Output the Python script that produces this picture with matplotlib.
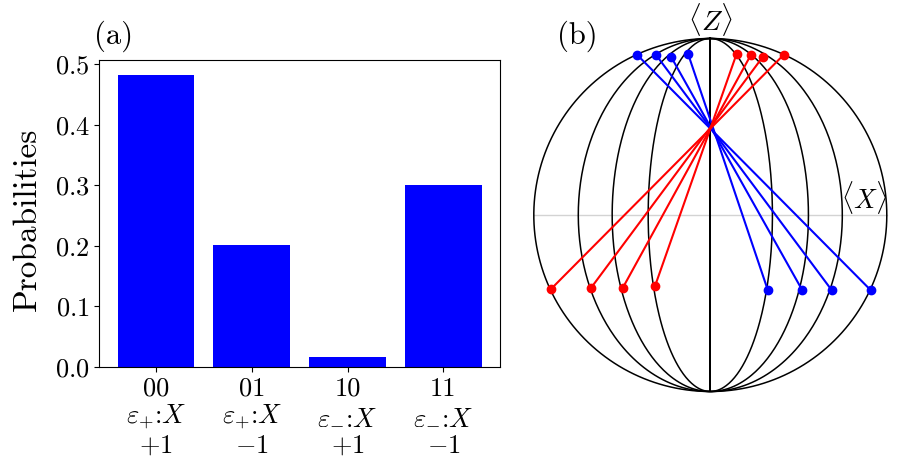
import matplotlib
matplotlib.use("Agg")
import matplotlib.pyplot as plt
import matplotlib.transforms as mtransforms
import numpy as np

plt.rcParams["font.family"] = "serif"
plt.rcParams["font.serif"] = ["cmr10"]
plt.rcParams["mathtext.fontset"] = "cm"
plt.rcParams["axes.formatter.use_mathtext"] = True
plt.rcParams["font.size"] = 19

# (a) 測量機率
outcomes = ["00", "01", "10", "11"]
channels = [r"$\varepsilon_{+}$:$X$", r"$\varepsilon_{+}$:$X$", r"$\varepsilon_{-}$:$X$", r"$\varepsilon_{-}$:$X$"]
eigenvalues = [r"$+1$", r"$-1$", r"$+1$", r"$-1$"]
probabilities = [0.483, 0.202, 0.017, 0.301]

# (b) Bloch 球 (x-z 投影)
meridian_widths = [0.0, 0.352, 0.556, 0.748, 1.0]
blue_top_x = [-0.416, -0.309, -0.222, -0.126]
blue_top_z = [0.909, 0.909, 0.896, 0.913]
blue_bot_x = [0.909, 0.688, 0.521, 0.326]
blue_bot_z = [-0.426, -0.426, -0.426, -0.426]
red_top_x = [0.417, 0.299, 0.231, 0.149]
red_top_z = [0.909, 0.898, 0.909, 0.913]
red_bot_x = [-0.903, -0.678, -0.496, -0.314]
red_bot_z = [-0.420, -0.416, -0.413, -0.405]

W, H = 905, 461
fig = plt.figure(figsize=(W / 100, H / 100), dpi=100)

# ---- (a) ----
ax1 = fig.add_axes([99.3 / W, 1 - 367 / H, (500 - 99.3) / W, (367 - 60) / H])
pos = np.arange(len(outcomes))
ax1.bar(pos, probabilities, width=0.8, color="blue")
ax1.set_xticks(pos)
ax1.set_xticklabels([""] * len(pos))
ax1.set_yticks([0.0, 0.1, 0.2, 0.3, 0.4, 0.5])
ax1.set_ylabel("Probabilities", fontsize=24)
ax1.yaxis.set_label_coords((41.7 - 99.3) / 400.7, 0.482)

# x 軸三行標籤
trans = mtransforms.blended_transform_factory(ax1.transData, fig.transFigure)
for p, o, c, e in zip(pos, outcomes, channels, eigenvalues):
    ax1.text(p, 1 - 389 / H, o, transform=trans, ha="center", va="center")
    ax1.text(p, 1 - 417 / H, c, transform=trans, ha="center", va="center")
    ax1.text(p, 1 - 446 / H, e, transform=trans, ha="center", va="center")

fig.text(114 / W, 1 - 36 / H, "(a)", ha="center", va="center", fontsize=22)

# ---- (b) ----
cx, cy, R = 710.3, 215.0, 176.5
lim = 1.2
ax2 = fig.add_axes([(cx - lim * R) / W, (H - cy - lim * R) / H, 2 * lim * R / W, 2 * lim * R / H])
ax2.set_xlim(-lim, lim)
ax2.set_ylim(-lim, lim)
ax2.axis("off")

ax2.plot([-1, 1], [0, 0], color="lightgray", lw=1.0, zorder=1)
t = np.linspace(0, 2 * np.pi, 400)
for a in meridian_widths:
    ax2.plot(a * np.sin(t), np.cos(t), color="black", lw=1.1, zorder=2)

for xt, zt, xb, zb in zip(blue_top_x, blue_top_z, blue_bot_x, blue_bot_z):
    ax2.plot([xt, xb], [zt, zb], "o-", color="blue", lw=1.5, ms=6, zorder=3)
for xt, zt, xb, zb in zip(red_top_x, red_top_z, red_bot_x, red_bot_z):
    ax2.plot([xt, xb], [zt, zb], "o-", color="red", lw=1.5, ms=6, zorder=3)

ax2.text(0, 1.11, r"$\langle Z\rangle$", ha="center", va="center", fontsize=20)
ax2.text(0.87, 0.1, r"$\langle X\rangle$", ha="center", va="center", fontsize=19)
fig.text(577 / W, 1 - 36 / H, "(b)", ha="center", va="center", fontsize=22)

fig.savefig("out.png", dpi=100)
